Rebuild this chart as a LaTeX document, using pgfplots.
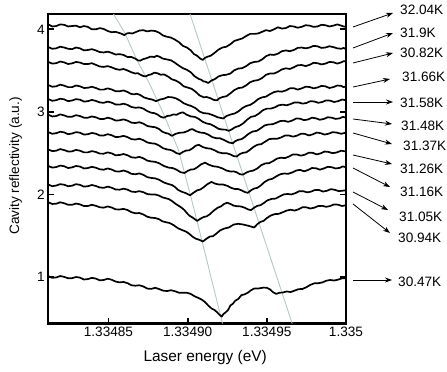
\documentclass[border=0pt]{standalone}
\usepackage{fontspec}
\setmainfont{Liberation Sans}
\usepackage{pgfplots}
\pgfplotsset{compat=1.18}
\usetikzlibrary{arrows.meta}
\definecolor{guide}{RGB}{182,200,200}
\newcommand{\lab}{\fontsize{13.6}{15}\selectfont}
\begin{document}
\begin{tikzpicture}
% x in units of 1e-5 eV above 1.33480 eV
\begin{axis}[
  scale only axis, width=297.7pt, height=309.5pt,
  xmin=1.2, xmax=20, ymin=0.437, ymax=4.186,
  xtick={5,10,15,20}, xticklabels={1.33485,1.33490,1.33495,1.335},
  ytick={1,2,3,4}, yticklabels={1,2,3,4},
  xtick pos=lower, ytick pos=both, tick align=inside,
  major tick length=6pt,
  tick style={black, line width=1.8pt},
  axis line style={line width=2.2pt},
  ticklabel style={font=\lab},
  xlabel={Laser energy (eV)}, ylabel={Cavity reflectivity (a.u.)},
  xlabel style={font=\fontsize{15.4}{17}\selectfont, at={(axis description cs:0.527,-0.1115)}, anchor=center},
  ylabel style={font=\lab, at={(axis description cs:-0.110,0.509)}, anchor=center},
  curve/.style={black, line width=1.7pt, line join=round},
]
\addplot[guide, line width=0.9pt] coordinates {(5.32,4.186)(6.05,3.95)(6.79,3.63)(7.57,3.35)(8.47,2.98)(9.42,2.54)(10.26,1.93)(10.89,1.45)(12.2,0.437)};
\addplot[guide, line width=0.9pt] coordinates {(10.15,4.186)(13.0,2.53)(16.6,0.437)};
% 32.04K
\addplot[curve] coordinates {(1.2,4.06)(1.45,4.035)(1.7,4.04)(1.95,4.06)(2.2,4.055)(2.45,4.035)(2.7,4.04)(2.95,4.045)(3.2,4.025)(3.45,4.04)(3.7,4.03)(3.95,4.00)(4.2,4.0)(4.45,4.015)(4.7,4.005)(4.95,3.98)(5.2,3.965)(5.45,3.97)(5.7,3.955)(5.85,3.945)(6.0,3.93)(6.15,3.95)(6.3,3.955)(6.5,3.95)(6.7,3.965)(6.95,3.985)(7.2,3.99)(7.45,3.975)(7.7,3.985)(7.95,3.98)(8.2,3.96)(8.45,3.925)(8.7,3.91)(8.95,3.90)(9.2,3.875)(9.45,3.845)(9.7,3.80)(9.95,3.78)(10.2,3.745)(10.4,3.70)(10.6,3.68)(10.8,3.645)(10.95,3.63)(11.1,3.655)(11.2,3.665)(11.45,3.68)(11.7,3.715)(11.95,3.755)(12.2,3.78)(12.45,3.79)(12.7,3.82)(12.95,3.86)(13.2,3.875)(13.45,3.89)(13.7,3.92)(13.95,3.945)(14.2,3.945)(14.45,3.95)(14.7,3.97)(14.95,3.99)(15.2,3.98)(15.45,4.0)(15.7,4.025)(15.95,4.01)(16.2,4.015)(16.45,4.04)(16.7,4.035)(16.95,4.02)(17.2,4.03)(17.45,4.05)(17.7,4.045)(17.95,4.03)(18.2,4.035)(18.45,4.055)(18.7,4.05)(18.95,4.035)(19.2,4.045)(19.45,4.06)(19.7,4.045)(19.85,4.035)(20.0,4.03)};
% 31.9K
\addplot[curve] coordinates {(1.2,3.785)(1.45,3.765)(1.7,3.77)(1.95,3.79)(2.2,3.78)(2.45,3.765)(2.7,3.76)(2.95,3.78)(3.2,3.77)(3.45,3.745)(3.7,3.75)(3.95,3.76)(4.2,3.745)(4.45,3.725)(4.7,3.72)(4.95,3.73)(5.2,3.715)(5.45,3.695)(5.7,3.70)(5.95,3.69)(6.2,3.665)(6.45,3.665)(6.7,3.645)(6.85,3.625)(7.0,3.62)(7.2,3.64)(7.4,3.65)(7.65,3.67)(7.9,3.665)(8.05,3.68)(8.2,3.67)(8.45,3.645)(8.7,3.635)(8.95,3.625)(9.2,3.595)(9.45,3.56)(9.7,3.53)(9.95,3.51)(10.2,3.48)(10.45,3.43)(10.7,3.40)(10.85,3.39)(11.0,3.37)(11.15,3.365)(11.3,3.35)(11.5,3.38)(11.7,3.395)(11.95,3.43)(12.2,3.445)(12.45,3.45)(12.7,3.465)(12.95,3.505)(13.2,3.525)(13.45,3.53)(13.7,3.555)(13.95,3.59)(14.2,3.605)(14.45,3.61)(14.7,3.635)(14.95,3.675)(15.2,3.695)(15.45,3.69)(15.7,3.705)(15.95,3.735)(16.2,3.745)(16.45,3.735)(16.7,3.75)(16.95,3.775)(17.2,3.78)(17.45,3.77)(17.7,3.78)(17.95,3.8)(18.2,3.795)(18.45,3.775)(18.7,3.78)(18.95,3.795)(19.2,3.785)(19.45,3.77)(19.7,3.765)(19.85,3.775)(20.0,3.76)};
% 30.82K
\addplot[curve] coordinates {(1.2,3.605)(1.45,3.585)(1.7,3.59)(1.95,3.61)(2.2,3.60)(2.45,3.58)(2.7,3.588)(2.95,3.605)(3.2,3.598)(3.45,3.58)(3.7,3.58)(3.95,3.59)(4.2,3.57)(4.45,3.55)(4.7,3.545)(4.95,3.555)(5.2,3.54)(5.45,3.52)(5.7,3.51)(5.95,3.52)(6.2,3.502)(6.45,3.48)(6.7,3.465)(6.85,3.47)(7.0,3.452)(7.2,3.435)(7.35,3.43)(7.5,3.445)(7.7,3.455)(7.9,3.475)(8.1,3.468)(8.3,3.45)(8.5,3.455)(8.75,3.43)(9.0,3.395)(9.25,3.38)(9.5,3.352)(9.75,3.31)(10.0,3.295)(10.25,3.28)(10.5,3.245)(10.75,3.20)(11.0,3.178)(11.2,3.18)(11.45,3.165)(11.65,3.145)(11.85,3.14)(12.0,3.165)(12.2,3.18)(12.45,3.19)(12.7,3.225)(12.95,3.265)(13.2,3.288)(13.45,3.295)(13.7,3.322)(13.95,3.36)(14.2,3.378)(14.45,3.385)(14.7,3.41)(14.95,3.45)(15.2,3.465)(15.45,3.465)(15.7,3.485)(15.95,3.515)(16.2,3.528)(16.45,3.52)(16.7,3.54)(16.95,3.565)(17.2,3.568)(17.45,3.555)(17.7,3.57)(17.95,3.595)(18.2,3.59)(18.45,3.575)(18.7,3.585)(18.95,3.605)(19.2,3.602)(19.45,3.585)(19.7,3.60)(19.85,3.615)(20.0,3.61)};
% 31.66K
\addplot[curve] coordinates {(1.2,3.325)(1.45,3.305)(1.7,3.31)(1.95,3.33)(2.2,3.318)(2.45,3.30)(2.7,3.30)(2.95,3.32)(3.2,3.31)(3.45,3.29)(3.7,3.292)(3.95,3.305)(4.2,3.29)(4.45,3.27)(4.7,3.27)(4.95,3.285)(5.2,3.272)(5.45,3.25)(5.7,3.25)(5.95,3.26)(6.2,3.242)(6.4,3.22)(6.6,3.212)(6.8,3.22)(7.0,3.205)(7.25,3.175)(7.5,3.16)(7.75,3.15)(8.0,3.13)(8.25,3.15)(8.5,3.16)(8.75,3.18)(9.0,3.178)(9.25,3.165)(9.5,3.14)(9.75,3.105)(10.0,3.085)(10.25,3.07)(10.5,3.045)(10.75,3.005)(11.0,2.985)(11.3,2.98)(11.6,2.96)(11.9,2.935)(12.25,2.92)(12.45,2.95)(12.7,2.968)(12.95,2.98)(13.2,3.005)(13.45,3.045)(13.7,3.072)(13.95,3.085)(14.2,3.115)(14.45,3.155)(14.7,3.176)(14.95,3.185)(15.2,3.215)(15.45,3.24)(15.7,3.25)(15.95,3.245)(16.2,3.26)(16.45,3.285)(16.7,3.288)(16.95,3.27)(17.2,3.285)(17.45,3.305)(17.7,3.302)(17.95,3.285)(18.2,3.296)(18.45,3.315)(18.7,3.31)(18.95,3.29)(19.2,3.30)(19.45,3.32)(19.7,3.315)(19.85,3.3)(20.0,3.31)};
% 31.58K
\addplot[curve] coordinates {(1.2,3.155)(1.45,3.135)(1.7,3.142)(1.95,3.16)(2.2,3.152)(2.45,3.13)(2.7,3.138)(2.95,3.155)(3.2,3.148)(3.45,3.125)(3.7,3.13)(3.95,3.145)(4.2,3.133)(4.45,3.115)(4.7,3.11)(4.95,3.125)(5.2,3.112)(5.45,3.09)(5.7,3.088)(5.95,3.1)(6.2,3.085)(6.45,3.06)(6.7,3.05)(6.95,3.055)(7.2,3.04)(7.45,3.01)(7.7,2.99)(7.9,2.985)(8.1,2.968)(8.3,2.94)(8.5,2.93)(8.7,2.95)(8.9,2.955)(9.1,2.97)(9.3,2.965)(9.5,2.985)(9.7,2.995)(9.95,2.965)(10.2,2.945)(10.45,2.94)(10.7,2.915)(10.95,2.88)(11.2,2.86)(11.45,2.85)(11.7,2.825)(11.95,2.795)(12.2,2.786)(12.4,2.785)(12.6,2.77)(12.8,2.79)(13.0,2.815)(13.25,2.83)(13.5,2.86)(13.75,2.905)(14.0,2.94)(14.25,2.95)(14.5,2.98)(14.75,3.02)(15.0,3.04)(15.25,3.04)(15.5,3.055)(15.75,3.08)(16.0,3.088)(16.25,3.08)(16.5,3.095)(16.75,3.115)(17.0,3.115)(17.25,3.1)(17.5,3.108)(17.75,3.13)(18.0,3.126)(18.25,3.11)(18.5,3.12)(18.75,3.14)(19.0,3.136)(19.25,3.12)(19.5,3.13)(19.75,3.15)(20.0,3.14)};
% 31.48K
\addplot[curve] coordinates {(1.2,2.965)(1.45,2.945)(1.7,2.95)(1.95,2.97)(2.2,2.958)(2.45,2.94)(2.7,2.942)(2.95,2.96)(3.2,2.95)(3.45,2.93)(3.7,2.93)(3.95,2.945)(4.2,2.935)(4.45,2.915)(4.7,2.914)(4.95,2.93)(5.2,2.918)(5.45,2.895)(5.7,2.898)(5.95,2.91)(6.2,2.895)(6.45,2.87)(6.7,2.865)(6.95,2.875)(7.2,2.858)(7.45,2.83)(7.7,2.82)(7.95,2.815)(8.2,2.792)(8.4,2.76)(8.6,2.745)(8.8,2.735)(9.0,2.71)(9.25,2.735)(9.5,2.748)(9.75,2.75)(10.0,2.768)(10.15,2.785)(10.3,2.792)(10.55,2.765)(10.8,2.75)(11.05,2.745)(11.3,2.725)(11.55,2.695)(11.8,2.682)(12.05,2.68)(12.3,2.66)(12.6,2.63)(12.85,2.62)(13.0,2.645)(13.2,2.662)(13.4,2.67)(13.6,2.695)(13.85,2.735)(14.1,2.762)(14.35,2.77)(14.6,2.80)(14.85,2.835)(15.1,2.848)(15.35,2.85)(15.6,2.868)(15.85,2.89)(16.1,2.892)(16.35,2.88)(16.6,2.895)(16.85,2.92)(17.1,2.918)(17.35,2.9)(17.6,2.908)(17.85,2.93)(18.1,2.922)(18.35,2.905)(18.6,2.915)(18.85,2.935)(19.1,2.93)(19.35,2.915)(19.6,2.922)(19.8,2.94)(20.0,2.93)};
% 31.37K
\addplot[curve] coordinates {(1.2,2.755)(1.45,2.735)(1.7,2.742)(1.95,2.76)(2.2,2.752)(2.45,2.73)(2.7,2.738)(2.95,2.755)(3.2,2.748)(3.45,2.725)(3.7,2.73)(3.95,2.745)(4.2,2.736)(4.45,2.715)(4.7,2.714)(4.95,2.73)(5.2,2.718)(5.45,2.695)(5.7,2.698)(5.95,2.71)(6.2,2.695)(6.45,2.67)(6.7,2.665)(6.95,2.675)(7.2,2.658)(7.45,2.63)(7.7,2.62)(7.95,2.615)(8.2,2.592)(8.45,2.56)(8.7,2.545)(8.9,2.54)(9.1,2.525)(9.3,2.5)(9.5,2.49)(9.7,2.515)(9.9,2.532)(10.1,2.535)(10.3,2.558)(10.5,2.59)(10.7,2.602)(10.95,2.575)(11.2,2.56)(11.45,2.555)(11.7,2.535)(11.95,2.51)(12.2,2.50)(12.45,2.5)(12.7,2.485)(12.9,2.465)(13.1,2.46)(13.3,2.49)(13.5,2.505)(13.7,2.51)(13.9,2.536)(14.15,2.575)(14.4,2.602)(14.65,2.61)(14.9,2.64)(15.15,2.67)(15.4,2.676)(15.65,2.675)(15.9,2.69)(16.15,2.715)(16.4,2.714)(16.65,2.7)(16.9,2.712)(17.15,2.735)(17.4,2.734)(17.65,2.715)(17.9,2.728)(18.15,2.75)(18.4,2.742)(18.65,2.725)(18.9,2.736)(19.15,2.755)(19.4,2.75)(19.7,2.735)(20.0,2.75)};
% 31.26K
\addplot[curve] coordinates {(1.2,2.545)(1.45,2.525)(1.7,2.53)(1.95,2.55)(2.2,2.538)(2.45,2.52)(2.7,2.522)(2.95,2.54)(3.2,2.53)(3.45,2.51)(3.7,2.51)(3.95,2.525)(4.2,2.515)(4.45,2.495)(4.7,2.494)(4.95,2.51)(5.2,2.498)(5.45,2.475)(5.7,2.478)(5.95,2.49)(6.2,2.475)(6.45,2.45)(6.7,2.445)(6.95,2.455)(7.2,2.438)(7.45,2.41)(7.7,2.40)(7.95,2.395)(8.2,2.378)(8.5,2.345)(8.8,2.325)(9.05,2.32)(9.3,2.30)(9.55,2.27)(9.8,2.26)(10.0,2.285)(10.2,2.302)(10.4,2.305)(10.6,2.328)(10.85,2.365)(11.1,2.385)(11.35,2.36)(11.6,2.342)(11.9,2.335)(12.2,2.315)(12.45,2.29)(12.7,2.278)(12.9,2.28)(13.1,2.268)(13.3,2.245)(13.5,2.24)(13.7,2.265)(13.9,2.28)(14.15,2.29)(14.4,2.315)(14.65,2.355)(14.9,2.376)(15.15,2.38)(15.4,2.405)(15.65,2.435)(15.9,2.445)(16.15,2.44)(16.4,2.46)(16.65,2.485)(16.9,2.484)(17.15,2.47)(17.4,2.482)(17.65,2.505)(17.9,2.504)(18.15,2.485)(18.4,2.498)(18.65,2.52)(18.9,2.515)(19.15,2.5)(19.4,2.508)(19.7,2.53)(20.0,2.52)};
% 31.16K
\addplot[curve] coordinates {(1.2,2.345)(1.45,2.325)(1.7,2.332)(1.95,2.35)(2.2,2.342)(2.45,2.32)(2.7,2.328)(2.95,2.345)(3.2,2.338)(3.45,2.315)(3.7,2.32)(3.95,2.335)(4.2,2.324)(4.45,2.305)(4.7,2.30)(4.95,2.315)(5.2,2.302)(5.45,2.28)(5.7,2.278)(5.95,2.29)(6.2,2.275)(6.45,2.25)(6.7,2.245)(6.95,2.255)(7.2,2.238)(7.45,2.21)(7.7,2.20)(7.95,2.195)(8.2,2.178)(8.5,2.145)(8.8,2.125)(9.0,2.115)(9.2,2.09)(9.4,2.055)(9.6,2.035)(9.9,2.015)(10.15,1.99)(10.4,2.025)(10.6,2.05)(10.8,2.06)(11.0,2.086)(11.25,2.125)(11.5,2.152)(11.75,2.13)(12.0,2.12)(12.25,2.12)(12.5,2.105)(12.75,2.08)(13.0,2.065)(13.2,2.065)(13.4,2.05)(13.6,2.03)(13.8,2.02)(14.0,2.05)(14.2,2.072)(14.4,2.08)(14.6,2.106)(14.85,2.15)(15.1,2.178)(15.35,2.19)(15.6,2.22)(15.85,2.245)(16.1,2.254)(16.35,2.25)(16.6,2.266)(16.85,2.29)(17.1,2.298)(17.35,2.28)(17.6,2.296)(17.85,2.32)(18.1,2.318)(18.35,2.3)(18.6,2.315)(18.85,2.335)(19.1,2.33)(19.35,2.315)(19.6,2.322)(19.8,2.34)(20.0,2.33)};
% 31.05K
\addplot[curve] coordinates {(1.2,2.12)(1.45,2.1)(1.7,2.108)(1.95,2.125)(2.2,2.118)(2.45,2.1)(2.7,2.106)(2.95,2.125)(3.2,2.116)(3.45,2.095)(3.7,2.10)(3.95,2.115)(4.2,2.103)(4.45,2.085)(4.7,2.08)(4.95,2.095)(5.2,2.082)(5.45,2.06)(5.7,2.058)(5.95,2.07)(6.2,2.058)(6.45,2.035)(6.7,2.03)(6.95,2.04)(7.2,2.028)(7.45,2.005)(7.7,2.0)(7.95,2.0)(8.2,1.986)(8.4,1.965)(8.6,1.955)(8.8,1.945)(9.0,1.922)(9.25,1.885)(9.5,1.855)(9.65,1.835)(9.8,1.81)(9.95,1.775)(10.1,1.745)(10.35,1.715)(10.6,1.68)(10.8,1.705)(11.0,1.726)(11.2,1.735)(11.4,1.76)(11.65,1.805)(11.9,1.84)(12.1,1.855)(12.3,1.885)(12.5,1.9)(12.7,1.885)(12.9,1.865)(13.1,1.858)(13.35,1.855)(13.6,1.84)(13.8,1.82)(14.0,1.81)(14.2,1.84)(14.4,1.862)(14.6,1.87)(14.8,1.895)(15.05,1.93)(15.3,1.946)(15.55,1.95)(15.8,1.975)(16.05,2.0)(16.3,2.006)(16.55,2.0)(16.8,2.016)(17.05,2.04)(17.3,2.04)(17.55,2.025)(17.8,2.035)(18.05,2.055)(18.3,2.054)(18.55,2.035)(18.8,2.045)(19.05,2.065)(19.3,2.056)(19.55,2.04)(19.8,2.046)(20.0,2.05)};
% 30.94K
\addplot[curve] coordinates {(1.2,1.905)(1.45,1.885)(1.7,1.888)(1.95,1.905)(2.2,1.894)(2.45,1.875)(2.7,1.875)(2.95,1.89)(3.2,1.88)(3.45,1.86)(3.7,1.86)(3.95,1.875)(4.2,1.863)(4.45,1.845)(4.7,1.84)(4.95,1.855)(5.2,1.842)(5.45,1.82)(5.7,1.818)(5.95,1.825)(6.2,1.812)(6.45,1.785)(6.7,1.772)(6.95,1.775)(7.2,1.758)(7.45,1.73)(7.7,1.718)(7.95,1.715)(8.2,1.70)(8.4,1.675)(8.6,1.665)(8.85,1.655)(9.1,1.63)(9.4,1.59)(9.7,1.565)(9.9,1.55)(10.1,1.524)(10.3,1.49)(10.5,1.466)(10.75,1.45)(10.95,1.43)(11.2,1.465)(11.4,1.49)(11.6,1.495)(11.8,1.524)(12.05,1.565)(12.3,1.586)(12.6,1.6)(12.9,1.635)(13.2,1.645)(13.5,1.636)(13.85,1.62)(14.2,1.60)(14.4,1.64)(14.6,1.668)(14.8,1.68)(15.0,1.714)(15.25,1.745)(15.5,1.762)(15.75,1.765)(16.0,1.784)(16.25,1.805)(16.5,1.815)(16.75,1.805)(17.0,1.82)(17.25,1.845)(17.5,1.844)(17.75,1.83)(18.0,1.84)(18.25,1.86)(18.5,1.862)(18.75,1.85)(19.0,1.86)(19.25,1.88)(19.5,1.876)(19.75,1.86)(20.0,1.87)};
% 30.47K
\addplot[curve] coordinates {(1.2,1.01)(1.45,0.99)(1.7,0.995)(1.95,1.012)(2.2,1.002)(2.45,0.985)(2.7,0.986)(2.95,1.0)(3.2,0.993)(3.45,0.97)(3.7,0.975)(3.95,0.99)(4.2,0.981)(4.45,0.96)(4.7,0.964)(4.95,0.98)(5.2,0.967)(5.45,0.945)(5.7,0.935)(5.95,0.94)(6.2,0.926)(6.45,0.9)(6.7,0.895)(6.95,0.9)(7.2,0.886)(7.45,0.86)(7.7,0.856)(7.95,0.87)(8.2,0.854)(8.45,0.835)(8.7,0.83)(8.95,0.84)(9.2,0.828)(9.45,0.81)(9.7,0.81)(9.95,0.81)(10.2,0.795)(10.45,0.765)(10.7,0.745)(10.9,0.725)(11.1,0.696)(11.3,0.655)(11.5,0.62)(11.7,0.6)(11.85,0.575)(12.0,0.545)(12.15,0.52)(12.25,0.55)(12.4,0.572)(12.55,0.6)(12.7,0.656)(12.85,0.675)(13.0,0.712)(13.2,0.735)(13.4,0.781)(13.6,0.79)(13.8,0.81)(14.0,0.84)(14.2,0.86)(14.5,0.862)(14.8,0.872)(15.0,0.87)(15.2,0.85)(15.4,0.815)(15.6,0.796)(15.8,0.81)(16.0,0.812)(16.25,0.825)(16.5,0.818)(16.75,0.835)(17.0,0.853)(17.25,0.855)(17.5,0.877)(17.75,0.905)(18.0,0.924)(18.25,0.925)(18.5,0.934)(18.75,0.955)(19.0,0.964)(19.25,0.958)(19.5,0.968)(19.75,0.985)(20.0,0.985)};
\end{axis}
% temperature labels, in pt from the lower left corner of the axis box
\begin{scope}[-{Stealth[length=7pt,width=5pt]}, line width=0.8pt]
\draw (304.7pt,296.5pt) -- (344.7pt,310.5pt);
\draw (304.7pt,275.5pt) -- (344.7pt,290.5pt);
\draw (304.7pt,260.5pt) -- (344.7pt,270.5pt);
\draw (304.7pt,236.5pt) -- (341.7pt,244.5pt);
\draw (304.7pt,221.5pt) -- (344.7pt,221.5pt);
\draw (304.7pt,204.5pt) -- (343.7pt,199.5pt);
\draw (304.7pt,190.5pt) -- (343.7pt,179.5pt);
\draw (304.7pt,168.5pt) -- (343.7pt,159.5pt);
\draw (304.7pt,155.5pt) -- (341.7pt,136.5pt);
\draw (304.7pt,131.5pt) -- (339.7pt,113.5pt);
\draw (304.7pt,119.5pt) -- (341.7pt,90.5pt);
\draw (304.7pt,43.5pt) -- (343.7pt,43.5pt);
\end{scope}
\begin{scope}[every node/.style={anchor=west, inner sep=0pt, font=\lab}]
\node at (351.7pt,313.5pt) {32.04K};
\node at (351.7pt,290.5pt) {31.9K};
\node at (351.7pt,270.5pt) {30.82K};
\node at (353.7pt,246.5pt) {31.66K};
\node at (351.7pt,220.5pt) {31.58K};
\node at (352.7pt,197.5pt) {31.48K};
\node at (354.7pt,177.5pt) {31.37K};
\node at (351.7pt,154.5pt) {31.26K};
\node at (351.7pt,131.5pt) {31.16K};
\node at (350.7pt,106.5pt) {31.05K};
\node at (349.7pt,85.5pt) {30.94K};
\node at (349.7pt,41.5pt) {30.47K};
\end{scope}
\pgfresetboundingbox
\path[use as bounding box] (-48.3pt,-48.5pt) rectangle (398.7pt,323.5pt);
\end{tikzpicture}
\end{document}
